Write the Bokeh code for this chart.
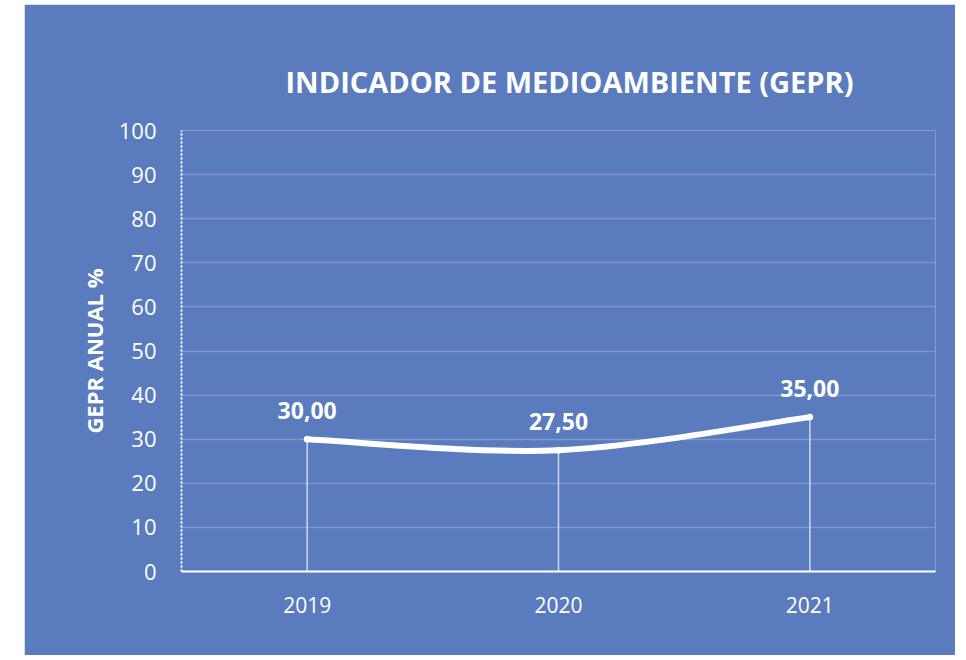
from bokeh.plotting import figure
from bokeh.models import Range1d, FixedTicker, ColumnDataSource
from bokeh.embed import file_html
from bokeh.resources import INLINE

years = ["2019", "2020", "2021"]
values = [30.0, 27.5, 35.0]
y_ticks = [0, 10, 20, 30, 40, 50, 60, 70, 80, 90, 100]
title_text = "INDICADOR DE MEDIOAMBIENTE (GEPR)"
y_title = "GEPR ANUAL %"

BG = "#5A7BBE"
FONT = "Open Sans"

xs = [i + 0.5 for i in range(len(years))]

p = figure(width=931, height=651, output_backend="svg", toolbar_location=None,
           x_range=Range1d(0, len(years)), y_range=Range1d(0, 100),
           background_fill_color=BG, border_fill_color=BG, outline_line_color=None,
           min_border_left=157, min_border_right=20, min_border_top=126, min_border_bottom=84,
           margin=(4, 0, 0, 24))

p.title.text = title_text
p.title.text_color = "white"
p.title.text_font = FONT
p.title.text_font_style = "bold"
p.title.text_font_size = "29px"
p.title.align = "left"
p.title.offset = 104
p.title.standoff = 59

# axes
p.xaxis.ticker = FixedTicker(ticks=xs)
p.xaxis.major_label_overrides = {x: y for x, y in zip(xs, years)}
p.xaxis.major_label_text_color = "white"
p.xaxis.major_label_text_font = FONT
p.xaxis.major_label_text_font_size = "21px"
p.xaxis.major_label_standoff = 19
p.xaxis.axis_line_color = "white"
p.xaxis.axis_line_width = 2
p.xaxis.major_tick_line_color = None
p.xaxis.minor_tick_line_color = None

p.yaxis.ticker = FixedTicker(ticks=y_ticks)
p.yaxis.major_label_text_color = "white"
p.yaxis.major_label_text_font = FONT
p.yaxis.major_label_text_font_size = "22px"
p.yaxis.major_label_standoff = 19
p.yaxis.axis_line_color = "white"
p.yaxis.axis_line_width = 2
p.yaxis.axis_line_dash = "2 2"
p.yaxis.major_tick_line_color = None
p.yaxis.minor_tick_line_color = None
p.yaxis.axis_label = y_title
p.yaxis.axis_label_text_color = "white"
p.yaxis.axis_label_text_font = FONT
p.yaxis.axis_label_text_font_style = "bold"
p.yaxis.axis_label_text_font_size = "22px"
p.yaxis.axis_label_standoff = 7

p.xgrid.grid_line_color = None
p.ygrid.grid_line_color = "white"
p.ygrid.grid_line_alpha = 0.22
p.ygrid.grid_line_width = 1.5

# drop lines
p.segment(x0=xs, y0=[0] * len(xs), x1=xs, y1=values, line_color="white",
          line_width=1.5, line_alpha=0.7)

# smoothed line (Catmull-Rom -> cubic Bezier)
pts = list(zip(xs, values))
bx0, by0, bx1, by1, cx0, cy0, cx1, cy1 = [], [], [], [], [], [], [], []
for i in range(len(pts) - 1):
    p0 = pts[i - 1] if i > 0 else pts[i]
    p1 = pts[i]
    p2 = pts[i + 1]
    p3 = pts[i + 2] if i + 2 < len(pts) else pts[i + 1]
    bx0.append(p1[0]); by0.append(p1[1])
    bx1.append(p2[0]); by1.append(p2[1])
    cx0.append(p1[0] + (p2[0] - p0[0]) / 6); cy0.append(p1[1] + (p2[1] - p0[1]) / 6)
    cx1.append(p2[0] - (p3[0] - p1[0]) / 6); cy1.append(p2[1] - (p3[1] - p1[1]) / 6)
p.bezier(x0=bx0, y0=by0, x1=bx1, y1=by1, cx0=cx0, cy0=cy0, cx1=cx1, cy1=cy1,
         line_color="white", line_width=6, line_cap="round")
p.scatter(xs, values, size=6, color="white")

labels = [f"{v:.2f}".replace(".", ",") for v in values]
src = ColumnDataSource(dict(x=xs, y=values, t=labels))
p.text(x="x", y="y", text="t", source=src, text_color="white", text_font_size="23px",
       text_font_style="bold", text_align="center", text_baseline="bottom",
       y_offset=-20, text_font={"value": FONT})

open("out.html", "w").write(file_html(p, INLINE))
